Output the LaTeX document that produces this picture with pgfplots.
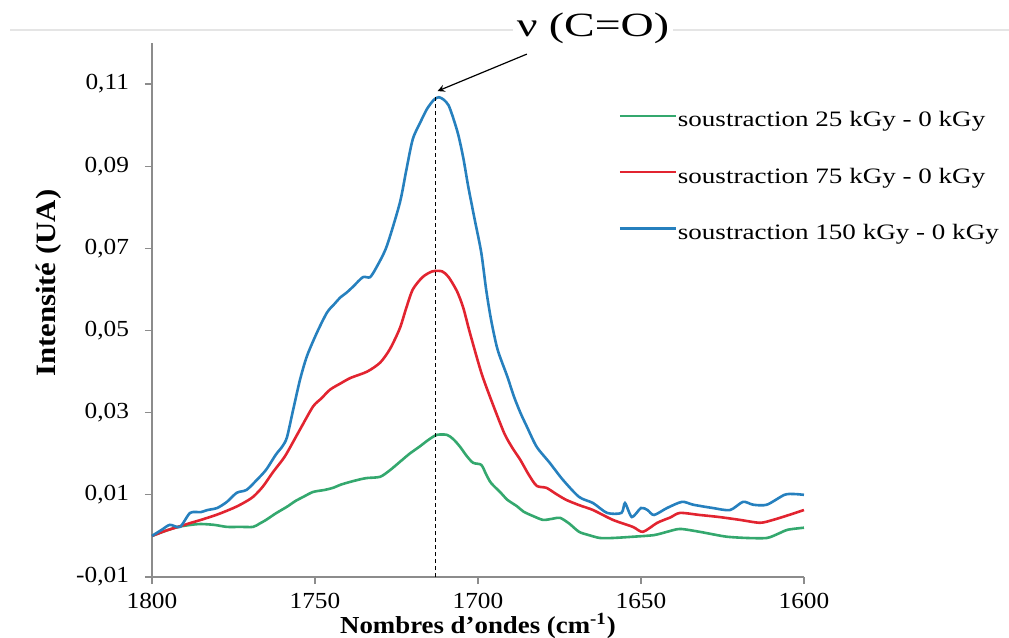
\documentclass[border=0pt]{standalone}
\usepackage{fontspec}
\setmainfont{Liberation Serif}[FakeStretch=1.1]
\newfontfamily\legfont{Liberation Serif}[FakeStretch=1.23]
\newfontfamily\titfont{Liberation Serif}[FakeStretch=1.35]
\usepackage{pgfplots}
\pgfplotsset{compat=1.18}
\definecolor{cgreen}{RGB}{52,168,110}
\definecolor{cred}{RGB}{226,36,48}
\definecolor{cblue}{RGB}{38,128,190}
\definecolor{axgray}{RGB}{140,140,140}
\begin{document}
\begin{tikzpicture}
\path[use as bounding box] (-76pt,-30.5pt) rectangle (428.5pt,288.5pt);
\draw[black!10, line width=0.8pt] (-71pt,273.5pt) -- (428.5pt,273.5pt);
\begin{axis}[
  at={(0,0)}, anchor=south west,
  scale only axis, width=326pt, height=267pt,
  xmin=1600, xmax=1800, x dir=reverse,
  ymin=-0.01, ymax=0.12,
  axis lines*=left, clip=false,
  axis line style={axgray, line width=0.6pt},
  tick style={axgray, line width=0.6pt},
  tick align=outside, major tick length=3.5pt,
  xtick={1600,1650,1700,1750,1800},
  ytick={-0.01,0.01,0.03,0.05,0.07,0.09,0.11},
  /pgf/number format/assume math mode=true,
  ticklabel style={font=\fontsize{11.5}{13}\selectfont},
  xticklabel style={/pgf/number format/1000 sep={}, yshift=-1pt},
  yticklabel style={/pgf/number format/.cd, use comma, fixed, fixed zerofill, precision=2, /tikz/.cd, xshift=-4.5pt},
  xlabel={\bfseries Nombres d\char"0027 ondes (cm\textsuperscript{-1})},
  ylabel={\bfseries Intensité (UA)},
  xlabel style={at={(axis description cs:0.5,0)}, anchor=center, yshift=-24.5pt, font=\fontsize{12.2}{13}\selectfont},
  ylabel style={at={(axis description cs:-0.158,0.55)}, anchor=center, font=\fontsize{14}{16}\selectfont},
  legend cell align=left,
  legend style={draw=none, fill=none, at={(0.706,0.747)}, anchor=west,
    font=\legfont\fontsize{11}{13}\selectfont, row sep=17.5pt,
    nodes={inner sep=0.3pt, text height=7.5pt, text depth=2.5pt}},
  legend image code/.code={\draw[#1, line width=1.3pt] (0pt,3pt) -- (28pt,3pt);},
  every axis plot/.append style={smooth, tension=0.45},
]
\addplot[cgreen, line width=1.3pt] coordinates {
(1800,0.0000) (1796,0.0012) (1792,0.0022) (1788,0.0027) (1785,0.0029) (1781,0.0027)
(1777,0.0022) (1773,0.0022) (1769,0.0022) (1767,0.0030) (1765,0.0039) (1762,0.0055)
(1758.6,0.0071) (1756,0.0085) (1753.6,0.0095) (1750.6,0.0107) (1747,0.0112) (1744.5,0.0117)
(1742,0.0125) (1739,0.0132) (1736,0.0138) (1734,0.0141) (1730,0.0144) (1727,0.0160)
(1724,0.0180) (1721,0.0200) (1718,0.0217) (1715,0.0235) (1712.6,0.0246) (1709.5,0.0246)
(1707.5,0.0235) (1705.5,0.0217) (1703.5,0.0195) (1701.5,0.0178) (1699,0.0173) (1697.5,0.0150)
(1696,0.0129) (1693,0.0105) (1691,0.0088) (1688,0.0072) (1686,0.0059) (1683,0.0048)
(1680,0.0039) (1677,0.0042) (1674.8,0.0044) (1672,0.0030) (1669,0.0010) (1666,0.0002)
(1662.6,-0.0005) (1658.6,-0.0005) (1652.5,-0.0002) (1646,0.0002) (1642,0.0010) (1638,0.0017)
(1632,0.0010) (1628,0.0004) (1623.6,-0.0002) (1617.5,-0.0005) (1611.4,-0.0005) (1608,0.0005)
(1605,0.0015) (1600,0.0020)
};
\addlegendentry{soustraction 25 kGy - 0 kGy}
\addplot[cred, line width=1.3pt] coordinates {
(1800,0.0000) (1796,0.0012) (1792,0.0022) (1788,0.0032) (1785,0.0039) (1780,0.0052)
(1775,0.0068) (1772,0.0080) (1769,0.0095) (1766,0.0120) (1763,0.0154) (1760,0.0185)
(1758.6,0.0202) (1754.6,0.0259) (1750.6,0.0315) (1748,0.0335) (1745.4,0.0356) (1742,0.0372)
(1739,0.0385) (1734,0.0400) (1730,0.0422) (1727,0.0455) (1724,0.0505) (1722,0.0555)
(1720,0.0600) (1717,0.0630) (1714,0.0644) (1711,0.0644) (1709,0.0630) (1706.4,0.0595)
(1704.5,0.0555) (1702.5,0.0495) (1699,0.0398) (1696,0.0332) (1692,0.0251) (1689.5,0.0215)
(1687,0.0185) (1684.5,0.0150) (1682,0.0122) (1679,0.0117) (1676,0.0102) (1673,0.0088)
(1669,0.0075) (1664.7,0.0063) (1658.6,0.0039) (1652.5,0.0022) (1649.4,0.0010) (1645,0.0032)
(1641,0.0045) (1638,0.0056) (1632,0.0051) (1626,0.0046) (1619.6,0.0039) (1613.5,0.0032)
(1609.5,0.0039) (1605,0.0050) (1600,0.0063)
};
\addlegendentry{soustraction 75 kGy - 0 kGy}
\addplot[cblue, line width=1.3pt] coordinates {
(1800,0.0000) (1797,0.0015) (1794.5,0.0027) (1791.4,0.0022) (1788.3,0.0056) (1785,0.0058)
(1783,0.0063) (1780,0.0068) (1777,0.0083) (1774,0.0105) (1771,0.0112) (1768,0.0135)
(1765,0.0161) (1762,0.0198) (1760,0.0218) (1758.6,0.0240) (1756.7,0.0307) (1754.6,0.0380)
(1752.5,0.0437) (1749.4,0.0495) (1746.3,0.0544) (1744,0.0565) (1742.3,0.0580) (1740.2,0.0593)
(1738.3,0.0607) (1735.3,0.0630) (1733.1,0.0630) (1731,0.0656) (1728,0.0705) (1724,0.0810)
(1722,0.0890) (1720,0.0966) (1717.5,0.1010) (1715.6,0.1040) (1713.5,0.1062) (1712,0.1068)
(1710.5,0.1062) (1709,0.1048) (1707.5,0.1015) (1706,0.0975) (1704.5,0.0920) (1703,0.0851)
(1701,0.0770) (1699,0.0690) (1697.5,0.0600) (1696,0.0527) (1694,0.0454) (1691,0.0388)
(1689,0.0340) (1687,0.0300) (1685,0.0266) (1682,0.0217) (1678,0.0178) (1674,0.0137)
(1669,0.0095) (1664.7,0.0080) (1660.4,0.0056) (1656,0.0056) (1654.9,0.0080) (1652.8,0.0046)
(1650,0.0068) (1648,0.0063) (1646,0.0051) (1642,0.0068) (1637.4,0.0083) (1634,0.0076)
(1628,0.0068) (1622.7,0.0063) (1618.7,0.0083) (1615.6,0.0076) (1611.4,0.0076) (1606,0.0100)
(1603,0.0102) (1600,0.0100)
};
\addlegendentry{soustraction 150 kGy - 0 kGy}
\addplot[black, line width=0.8pt, dash pattern=on 2pt off 1.5pt, forget plot, sharp plot] coordinates {(1713,-0.01) (1713,0.1075)};
\draw[black, line width=0.6pt, -stealth] (axis cs:1685,0.1173) -- (axis cs:1712.4,0.1083);
\end{axis}
\node[fill=white, inner xsep=2pt, inner ysep=0pt, font=\titfont\fontsize{17}{18}\selectfont] at (220.5pt,274.5pt) {ν (C=O)};
\end{tikzpicture}
\end{document}
